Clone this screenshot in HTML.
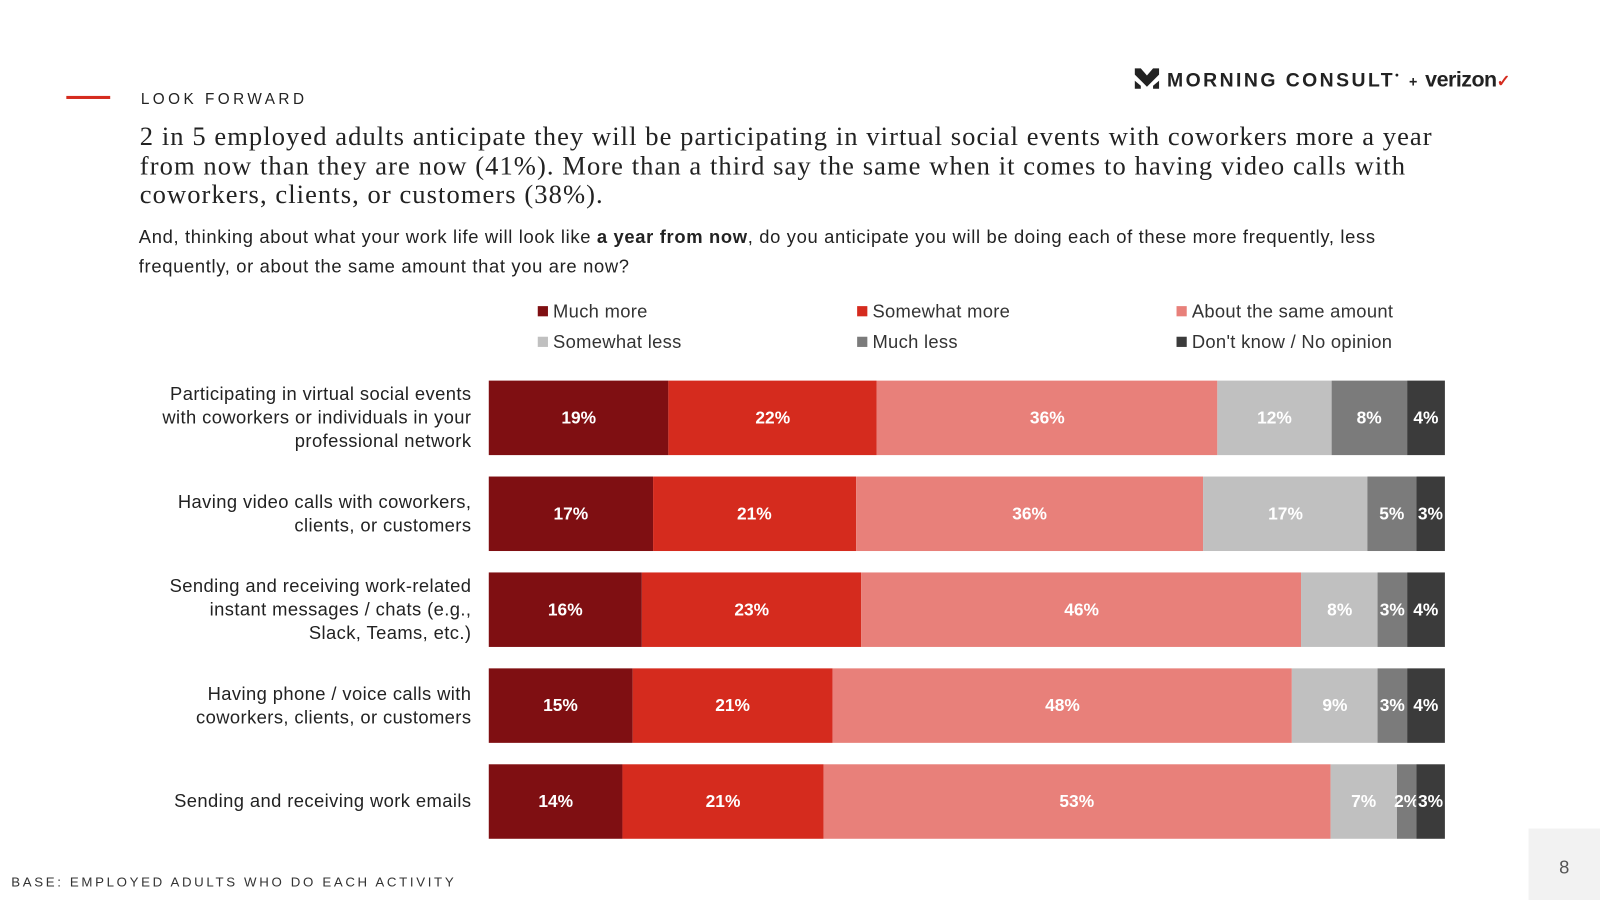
<!DOCTYPE html>
<html><head><meta charset="utf-8"><style>
html,body{margin:0;padding:0;background:#fff;width:1600px;height:900px;overflow:hidden}
#wrap{position:absolute;left:0;top:0;width:1568px;height:882px;transform:scale(1.020408);transform-origin:0 0;font-family:"Liberation Sans",Arial,sans-serif;color:#222}
.abs{position:absolute}
.lab{position:absolute;right:1106px;width:380px;text-align:right;font-size:18px;line-height:23px;color:#222;white-space:pre-line;letter-spacing:0.4px}
.leg{position:absolute;font-size:18px;color:#333;white-space:nowrap;letter-spacing:0.3px}
.leg i{display:inline-block;width:10px;height:10px;margin-right:5px;vertical-align:1px}
.seg{position:absolute;color:#fff;font-weight:bold;font-size:17px;display:flex;align-items:center;justify-content:center;white-space:nowrap}
</style></head><body>
<div id="wrap">
<div class="abs" style="left:65px;top:94px;width:43px;height:3px;background:#d52b1e"></div>
<div class="abs" style="left:138px;top:89px;font-size:15px;letter-spacing:3.4px;color:#222">LOOK FORWARD</div>
<div class="abs" style="left:1112px;top:65px;font-size:19px;font-weight:bold;letter-spacing:2.4px;color:#222;white-space:nowrap">
<svg width="24" height="24" viewBox="0 0 24 24" style="vertical-align:-4px"><path d="M0 2h6l6 7 6-7h6v6l-12 12L0 8z M0 14l6 5v3H0z M24 14l-6 5v3h6z" fill="#222"/></svg> MORNING CONSULT<span style="font-size:10px;vertical-align:8px">•</span> <span style="font-size:14px;letter-spacing:0">+</span> <span style="letter-spacing:-0.5px;font-size:21px">verizon</span><span style="color:#d52b1e;font-size:16px">✓</span></div>
<div class="abs" style="left:137px;top:120px;width:1320px;white-space:nowrap;font-family:'Liberation Serif',Georgia,serif;font-size:26px;line-height:28.5px;letter-spacing:1.05px;color:#222">2 in 5 employed adults anticipate they will be participating in virtual social events with coworkers more a year<br>from now than they are now (41%). More than a third say the same when it comes to having video calls with<br>coworkers, clients, or customers (38%).</div>
<div class="abs" style="left:136px;top:218px;width:1300px;white-space:nowrap;font-size:18px;line-height:29px;letter-spacing:0.65px;color:#222">And, thinking about what your work life will look like <b>a year from now</b>, do you anticipate you will be doing each of these more frequently, less<br>frequently, or about the same amount that you are now?</div>
<div id="legend"></div>
<div id="chart"></div>
<div class="abs" style="left:11px;top:857px;font-size:13px;letter-spacing:2.6px;color:#333">BASE: EMPLOYED ADULTS WHO DO EACH ACTIVITY</div>
<div class="abs" style="left:1498px;top:812px;width:70px;height:70px;background:#f2f2f2;display:flex;align-items:center;justify-content:center;font-size:18px;color:#555;padding-top:6px;box-sizing:border-box">8</div>
</div>
<script>
const categories=["Participating in virtual social events\nwith coworkers or individuals in your\nprofessional network","Having video calls with coworkers,\nclients, or customers","Sending and receiving work-related\ninstant messages / chats (e.g.,\nSlack, Teams, etc.)","Having phone / voice calls with\ncoworkers, clients, or customers","Sending and receiving work emails"];
const seriesNames=["Much more","Somewhat more","About the same amount","Somewhat less","Much less","Don't know / No opinion"];
const muchMore=[19,17,16,15,14];
const somewhatMore=[22,21,23,21,21];
const aboutSame=[36,36,46,48,53];
const somewhatLess=[12,17,8,9,7];
const muchLess=[8,5,3,3,2];
const dontKnow=[4,3,4,4,3];
const colors=["#7f0f12","#d52b1e","#e8807a","#c0c0c0","#7b7b7b","#3b3b3b"];
const series=[muchMore,somewhatMore,aboutSame,somewhatLess,muchLess,dontKnow];
const X0=479,W=937,Y0=373,STEP=94,H=73;
const lg=document.getElementById('legend');
seriesNames.forEach((n,i)=>{const d=document.createElement('div');d.className='leg';


d.style.left=(527+313*(i%3))+'px';d.style.top=(295+30*Math.floor(i/3))+'px';
d.innerHTML='<i style="background:'+colors[i]+'"></i>'+n;lg.appendChild(d);});
const ch=document.getElementById('chart');
categories.forEach((c,r)=>{
 const y=Y0+r*STEP;
 const l=document.createElement('div');l.className='lab';
 
 
 l.textContent=c;ch.appendChild(l);
 l.style.top=(y+H/2-l.offsetHeight/2)+'px';
 const tot=series.reduce((s,a)=>s+a[r],0);
 let x=X0;
 series.forEach((a,i)=>{const w=a[r]/tot*W;const s=document.createElement('div');s.className='seg';
  
  
  s.style.left=x+'px';s.style.top=y+'px';s.style.width=w+'px';s.style.height=H+'px';s.style.background=colors[i];
  s.textContent=a[r]+'%';ch.appendChild(s);x+=w;});
});
</script>
</body></html>
